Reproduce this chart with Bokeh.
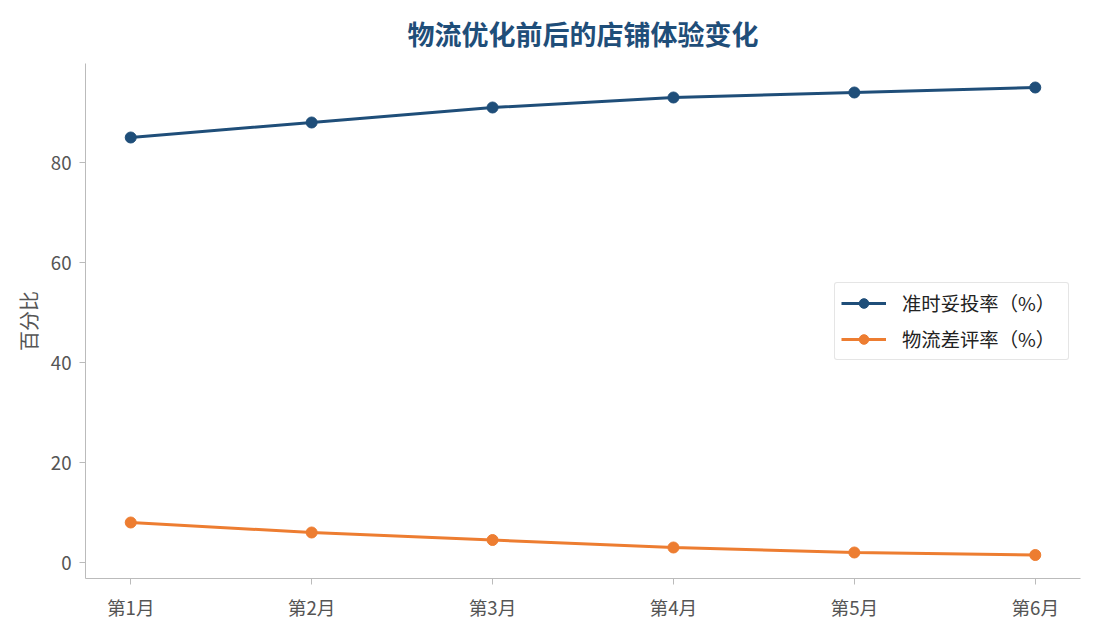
from bokeh.plotting import figure
from bokeh.models import Range1d, FixedTicker, Legend, LegendItem
from bokeh.embed import file_html
from bokeh.resources import INLINE

months = ["第1月", "第2月", "第3月", "第4月", "第5月", "第6月"]
on_time = [85, 88, 91, 93, 94, 95]
bad_review = [8, 6, 4.5, 3, 2, 1.5]

FONT = "Noto Sans CJK SC"
BLUE = "#1f4e79"
ORANGE = "#ed7d31"

xs = list(range(len(months)))

p = figure(
    frame_width=995, frame_height=515,
    min_border_left=85, min_border_right=10, min_border_top=62, min_border_bottom=45,
    x_range=Range1d(-0.25, 5.25), y_range=Range1d(-3.2, 99.8),
    title="物流优化前后的店铺体验变化",
    toolbar_location=None, output_backend="svg",
)

p.title.align = "center"
p.title.text_font = FONT
p.title.text_font_size = "27px"
p.title.text_font_style = "bold"
p.title.text_color = BLUE
p.title.standoff = 22

p.xgrid.visible = False
p.ygrid.visible = False
p.outline_line_color = None

for ax in (p.xaxis[0], p.yaxis[0]):
    ax.axis_line_color = "#bbbbbb"
    ax.major_tick_line_color = "#bbbbbb"
    ax.minor_tick_line_color = None
    ax.major_tick_out = 6
    ax.major_tick_in = 0
    ax.major_label_text_font = FONT
    ax.major_label_text_font_size = "14pt"
    ax.major_label_text_color = "#555555"
    ax.major_label_standoff = 8

p.xaxis.ticker = FixedTicker(ticks=xs)
p.xaxis.major_label_overrides = {i: m for i, m in enumerate(months)}
p.yaxis.ticker = FixedTicker(ticks=[0, 20, 40, 60, 80])
p.yaxis.axis_label = "百分比"
p.yaxis.axis_label_text_font = FONT
p.yaxis.axis_label_text_font_size = "15pt"
p.yaxis.axis_label_text_font_style = "normal"
p.yaxis.axis_label_text_color = "#555555"

l1 = p.line(xs, on_time, line_width=3, color=BLUE)
s1 = p.scatter(xs, on_time, size=11, color=BLUE)
l2 = p.line(xs, bad_review, line_width=3, color=ORANGE)
s2 = p.scatter(xs, bad_review, size=11, color=ORANGE)

legend = Legend(items=[
    LegendItem(label="准时妥投率（%）", renderers=[l1, s1]),
    LegendItem(label="物流差评率（%）", renderers=[l2, s2]),
], location="right")
legend.margin = 11
legend.label_text_font = FONT
legend.label_text_font_size = "14.5pt"
legend.label_text_color = "#222222"
legend.border_line_color = "#cccccc"
legend.border_line_width = 1
legend.border_radius = 3
legend.glyph_width = 45
legend.glyph_height = 24
legend.label_standoff = 16
legend.label_width = 160
legend.spacing = 8
legend.padding = 6
p.add_layout(legend)

open("out.html", "w").write(file_html(p, INLINE))
